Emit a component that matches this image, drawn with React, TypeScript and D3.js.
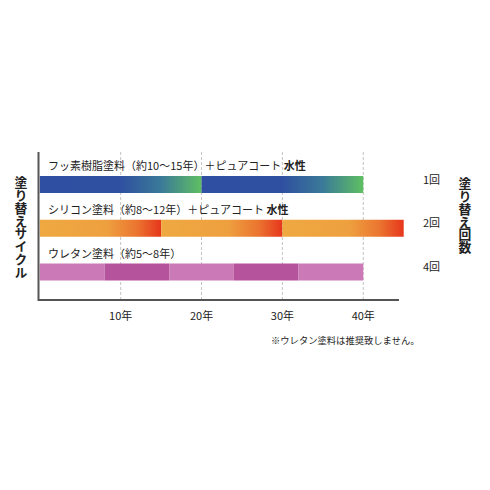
import { useEffect, useRef } from 'react'
import * as d3 from 'd3'

// paint products, cycle length, and total span drawn (years)
const materialNames = ['フッ素樹脂塗料（約10〜15年）＋ピュアコート', 'シリコン塗料（約8〜12年）＋ピュアコート', 'ウレタン塗料（約5〜8年）']
const materialSuffix = ['水性', '水性', '']
const cycleYears = [20, 15, 8]
const totalYears = [40, 45, 40]
const repaintCounts = ['1回', '2回', '4回']
const xTicks = [10, 20, 30, 40]

const FONT = '"Noto Sans CJK JP", "Noto Sans", sans-serif'

export default function App() {
  const svgRef = useRef<SVGSVGElement>(null)

  useEffect(() => {
    if (!svgRef.current) return
    const svg = d3.select(svgRef.current)
    svg.selectAll('*').remove()

    const W = 490, H = 490
    svg.attr('width', W).attr('height', H)
    svg.append('rect').attr('width', W).attr('height', H).attr('fill', '#fff')

    const x = d3.scaleLinear().domain([0, 45]).range([39.8, 403.7])
    const rowTop = d3.scaleLinear().domain([0, 2]).range([176, 263.5])
    const barH = 17
    const axisTop = 152, axisY = 300

    // gradients
    const defs = svg.append('defs')
    const mkGrad = (id: string, stops: [number, string][]) => {
      const g = defs.append('linearGradient').attr('id', id).attr('x1', '0%').attr('x2', '100%')
      stops.forEach(([o, c]) => g.append('stop').attr('offset', `${o * 100}%`).attr('stop-color', c))
    }
    mkGrad('gFluoro', [[0, '#2f4fa2'], [0.5, '#2f50a0'], [0.75, '#3a7a98'], [1, '#5fbf62']])
    mkGrad('gSilicon', [[0, '#efa941'], [0.55, '#eea03f'], [0.8, '#eb7530'], [1, '#e6361c']])

    // gridlines
    svg.append('g').selectAll('line').data(xTicks).join('line')
      .attr('x1', d => x(d)).attr('x2', d => x(d))
      .attr('y1', axisTop).attr('y2', axisY)
      .attr('stroke', '#b5b5b5').attr('stroke-width', 0.8).attr('stroke-dasharray', '3,2')

    // bars
    materialNames.forEach((_, i) => {
      const n = Math.ceil(totalYears[i] / cycleYears[i] - 0.01)
      const segs = d3.range(n).map(k => [k * cycleYears[i], Math.min((k + 1) * cycleYears[i], totalYears[i])])
      svg.append('g').selectAll('rect').data(segs).join('rect')
        .attr('x', d => x(d[0]))
        .attr('width', d => x(d[1]) - x(d[0]))
        .attr('y', rowTop(i)).attr('height', barH)
        .attr('fill', (d, k) => i === 0 ? 'url(#gFluoro)' : i === 1 ? 'url(#gSilicon)' : (k % 2 === 0 ? '#cc7ab7' : '#b5539c'))
    })

    // labels above bars
    materialNames.forEach((name, i) => {
      const t = svg.append('text')
        .attr('x', 48).attr('y', rowTop(i) - 6)
        .attr('font-family', FONT).attr('font-size', 11).attr('fill', '#222')
      t.append('tspan').text(name)
      if (materialSuffix[i]) t.append('tspan').attr('font-weight', 'bold').text(' ' + materialSuffix[i])
    })

    // repaint counts
    svg.append('g').selectAll('text').data(repaintCounts).join('text')
      .attr('x', 423).attr('y', (_, i) => rowTop(i) + barH / 2 - 1)
      .attr('font-family', FONT).attr('font-size', 11).attr('fill', '#222')
      .text(d => d)

    // axes
    svg.append('line').attr('x1', 38.5).attr('x2', 38.5).attr('y1', axisTop).attr('y2', axisY + 1)
      .attr('stroke', '#555').attr('stroke-width', 2)
    svg.append('line').attr('x1', 38.5).attr('x2', 399).attr('y1', axisY).attr('y2', axisY)
      .attr('stroke', '#555').attr('stroke-width', 2)

    svg.append('g').selectAll('text').data(xTicks).join('text')
      .attr('x', d => x(d)).attr('y', 320)
      .attr('text-anchor', 'middle')
      .attr('font-family', FONT).attr('font-size', 11).attr('fill', '#222')
      .text(d => `${d}年`)

    // vertical titles
    const vtitle = (tx: number, ty: number, s: string) =>
      svg.append('text')
        .attr('x', tx).attr('y', ty)
        .attr('font-family', FONT).attr('font-size', 12.8).attr('font-weight', 'bold').attr('fill', '#222')
        .style('writing-mode', 'vertical-rl').style('text-orientation', 'upright')
        .text(s)
    vtitle(21, 176, '塗り替えサイクル')
    vtitle(465, 177, '塗り替え回数')

    // footnote
    svg.append('text')
      .attr('x', 271).attr('y', 343.5)
      .attr('font-family', FONT).attr('font-size', 9.3).attr('fill', '#222')
      .text('※ウレタン塗料は推奨致しません。')
  }, [])

  return (
    <div style={{ position: 'absolute', left: 0, top: 0 }}>
      <svg ref={svgRef} style={{ display: 'block' }} />
    </div>
  )
}
